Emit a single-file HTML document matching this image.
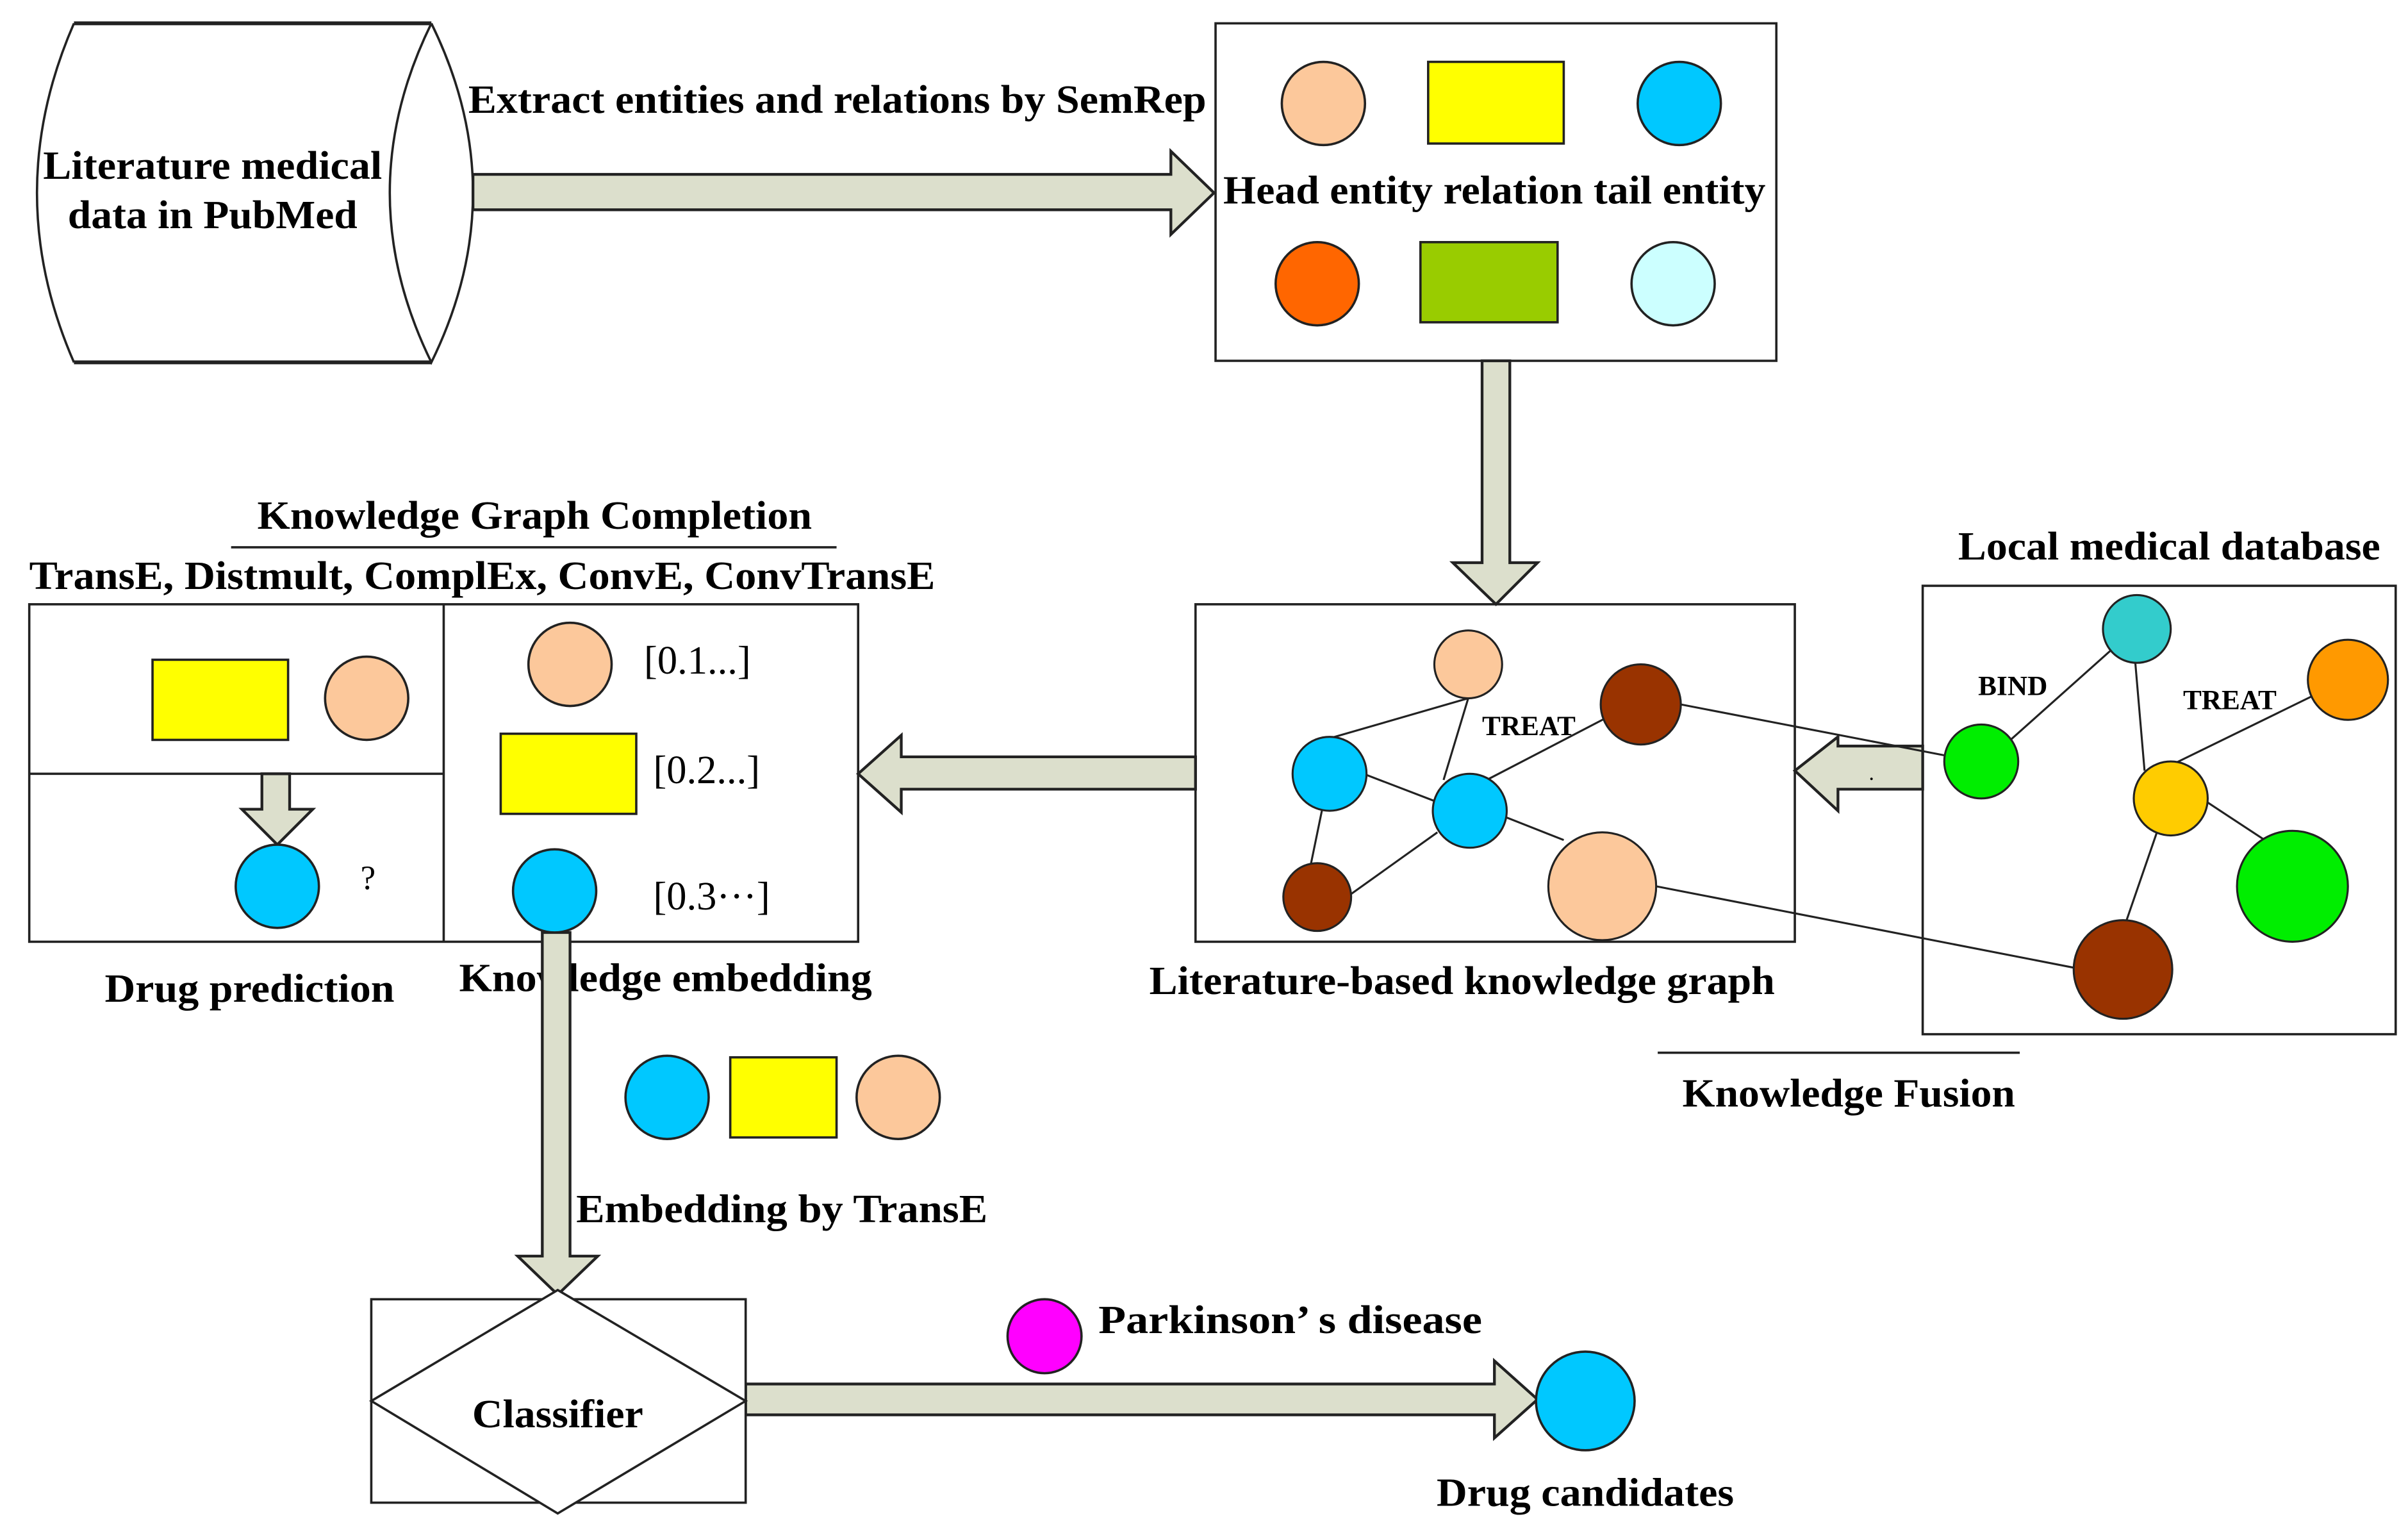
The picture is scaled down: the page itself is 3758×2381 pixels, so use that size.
<!DOCTYPE html>
<html><head><meta charset="utf-8"><style>
html,body{margin:0;padding:0;background:#fff;}
svg{display:block;}
text{font-family:"Liberation Serif",serif;font-size:26px;fill:#000;}
.b{font-weight:bold;}
</style></head><body>
<svg width="3758" height="2381" viewBox="0 0 1563 990" xmlns="http://www.w3.org/2000/svg">
<g stroke="#222" stroke-width="1.5" fill="none">
<path d="M48,15 L280,15 M48,235 L280,235" stroke-width="2.5"/>
<path d="M48,15 Q0,125 48,235" />
<path d="M280,15 Q334,125 280,235 Q226,125 280,15" />
</g>
<text class="b" x="138" y="116" text-anchor="middle" textLength="220" lengthAdjust="spacingAndGlyphs">Literature medical</text>
<text class="b" x="138" y="148" text-anchor="middle" textLength="188" lengthAdjust="spacingAndGlyphs">data in PubMed</text>

<g fill="#dcdfcc" stroke="#222" stroke-width="1.8">
<path d="M307,113 L760,113 L760,98 L788,125 L760,152 L760,136 L307,136 Z"/>
<path d="M962,234 L980,234 L980,365 L998,365 L971,392 L943,365 L962,365 Z"/>
<path d="M1248,484 L1193,484 L1193,478 L1165,500 L1193,526 L1193,512 L1248,512 Z"/>
<path d="M776,491 L585,491 L585,477 L557,502 L585,527 L585,512 L776,512 Z"/>
<path d="M170,502 L188,502 L188,525 L203,525 L180,548 L157,525 L170,525 Z"/>
<path d="M484,898 L970,898 L970,883 L998,908 L970,933 L970,918 L484,918 Z"/>
</g>
<text class="b" x="304" y="73" textLength="479" lengthAdjust="spacingAndGlyphs">Extract entities and relations by SemRep</text>

<rect x="789" y="15" width="364" height="219" fill="none" stroke="#222" stroke-width="1.5"/>
<g stroke="#222" stroke-width="1.5">
<circle cx="859" cy="67" r="27" fill="#fcc89b"/>
<rect x="927" y="40" width="88" height="53" fill="#ffff00"/>
<circle cx="1090" cy="67" r="27" fill="#00c8ff"/>
<circle cx="855" cy="184" r="27" fill="#ff6600"/>
<rect x="922" y="157" width="89" height="52" fill="#99cc00"/>
<circle cx="1086" cy="184" r="27" fill="#ccffff"/>
</g>
<text class="b" x="970" y="132" text-anchor="middle" textLength="352" lengthAdjust="spacingAndGlyphs">Head entity relation tail entity</text>

<rect x="776" y="392" width="389" height="219" fill="none" stroke="#222" stroke-width="1.5"/>
<g stroke="#222" stroke-width="1.3">
<line x1="863" y1="479" x2="953" y2="453"/>
<line x1="953" y1="453" x2="937" y2="506"/>
<line x1="965" y1="506" x2="1042" y2="466"/>
<line x1="885" y1="502" x2="932" y2="520"/>
<line x1="858" y1="526" x2="851" y2="560"/>
<line x1="877" y1="580" x2="933" y2="540"/>
<line x1="977" y1="530" x2="1015" y2="545"/>
<line x1="1091" y1="457" x2="1262" y2="490"/>
<line x1="1075" y1="575" x2="1347" y2="628"/>
<circle cx="953" cy="431" r="22" fill="#fcc89b"/>
<circle cx="1065" cy="457" r="26" fill="#993300"/>
<circle cx="863" cy="502" r="24" fill="#00c8ff"/>
<circle cx="954" cy="526" r="24" fill="#00c8ff"/>
<circle cx="855" cy="582" r="22" fill="#993300"/>
<circle cx="1040" cy="575" r="35" fill="#fcc89b"/>
</g>
<text x="962" y="477" style="font-size:18px" class="b">TREAT</text>
<text class="b" x="949" y="645" text-anchor="middle" textLength="406" lengthAdjust="spacingAndGlyphs">Literature-based knowledge graph</text>
<text x="1213" y="506" style="font-size:14px">.</text>

<rect x="1248" y="380" width="307" height="291" fill="none" stroke="#222" stroke-width="1.5"/>
<text class="b" x="1408" y="363" text-anchor="middle" textLength="274" lengthAdjust="spacingAndGlyphs">Local medical database</text>
<g stroke="#222" stroke-width="1.3">
<line x1="1305" y1="480" x2="1370" y2="422"/>
<line x1="1386" y1="430" x2="1392" y2="500"/>
<line x1="1410" y1="496" x2="1500" y2="452"/>
<line x1="1432" y1="520" x2="1470" y2="545"/>
<line x1="1400" y1="540" x2="1380" y2="598"/>
<circle cx="1387" cy="408" r="22" fill="#33cccc"/>
<circle cx="1524" cy="441" r="26" fill="#ff9900"/>
<circle cx="1286" cy="494" r="24" fill="#00ee00"/>
<circle cx="1409" cy="518" r="24" fill="#ffcc00"/>
<circle cx="1488" cy="575" r="36" fill="#00ee00"/>
<circle cx="1378" cy="629" r="32" fill="#993300"/>
</g>
<text x="1284" y="451" style="font-size:18px" class="b">BIND</text>
<text x="1417" y="460" style="font-size:18px" class="b">TREAT</text>
<line x1="1076" y1="683" x2="1311" y2="683" stroke="#222" stroke-width="1.5"/>
<text class="b" x="1200" y="718" text-anchor="middle" textLength="216" lengthAdjust="spacingAndGlyphs">Knowledge Fusion</text>

<text class="b" x="347" y="343" text-anchor="middle" textLength="360" lengthAdjust="spacingAndGlyphs">Knowledge Graph Completion</text>
<line x1="150" y1="355" x2="543" y2="355" stroke="#222" stroke-width="1.5"/>
<text class="b" x="19" y="382" textLength="588" lengthAdjust="spacingAndGlyphs">TransE, Distmult, ComplEx, ConvE, ConvTransE</text>
<rect x="19" y="392" width="538" height="219" fill="none" stroke="#222" stroke-width="1.5"/>
<line x1="288" y1="392" x2="288" y2="611" stroke="#222" stroke-width="1.5"/>
<line x1="19" y1="502" x2="288" y2="502" stroke="#222" stroke-width="1.5"/>
<g stroke="#222" stroke-width="1.5">
<rect x="99" y="428" width="88" height="52" fill="#ffff00"/>
<circle cx="238" cy="453" r="27" fill="#fcc89b"/>
<circle cx="180" cy="575" r="27" fill="#00c8ff"/>
<circle cx="370" cy="431" r="27" fill="#fcc89b"/>
<rect x="325" y="476" width="88" height="52" fill="#ffff00"/>
</g>
<text x="234" y="577" style="font-size:22px">?</text>
<text x="418" y="437">[0.1...]</text>
<text x="424" y="508">[0.2...]</text>
<text x="424" y="590">[0.3···]</text>
<text class="b" x="162" y="650" text-anchor="middle" textLength="188" lengthAdjust="spacingAndGlyphs">Drug prediction</text>
<text class="b" x="298" y="643" textLength="268" lengthAdjust="spacingAndGlyphs">Knowledge embedding</text>
<path d="M352,605 L370,605 L370,815 L388,815 L362,840 L336,815 L352,815 Z" fill="#dcdfcc" stroke="#222" stroke-width="1.8"/>
<circle cx="360" cy="578" r="27" fill="#00c8ff" stroke="#222" stroke-width="1.5"/>

<g stroke="#222" stroke-width="1.5">
<circle cx="433" cy="712" r="27" fill="#00c8ff"/>
<rect x="474" y="686" width="69" height="52" fill="#ffff00"/>
<circle cx="583" cy="712" r="27" fill="#fcc89b"/>
</g>
<text class="b" x="374" y="793" textLength="267" lengthAdjust="spacingAndGlyphs">Embedding by TransE</text>

<rect x="241" y="843" width="243" height="132" fill="#fff" stroke="#222" stroke-width="1.5"/>
<path d="M362,837 L484,909 L362,982 L241,909 Z" fill="#fff" stroke="#222" stroke-width="1.5"/>
<text class="b" x="362" y="926" text-anchor="middle" textLength="111" lengthAdjust="spacingAndGlyphs">Classifier</text>
<circle cx="678" cy="867" r="24" fill="#ff00ff" stroke="#222" stroke-width="1.5"/>
<text class="b" x="713" y="865" textLength="249" lengthAdjust="spacingAndGlyphs">Parkinson’ s disease</text>
<circle cx="1029" cy="909" r="32" fill="#00c8ff" stroke="#222" stroke-width="1.5"/>
<text class="b" x="1029" y="977" text-anchor="middle" textLength="193" lengthAdjust="spacingAndGlyphs">Drug candidates</text>
</svg>
</body></html>
